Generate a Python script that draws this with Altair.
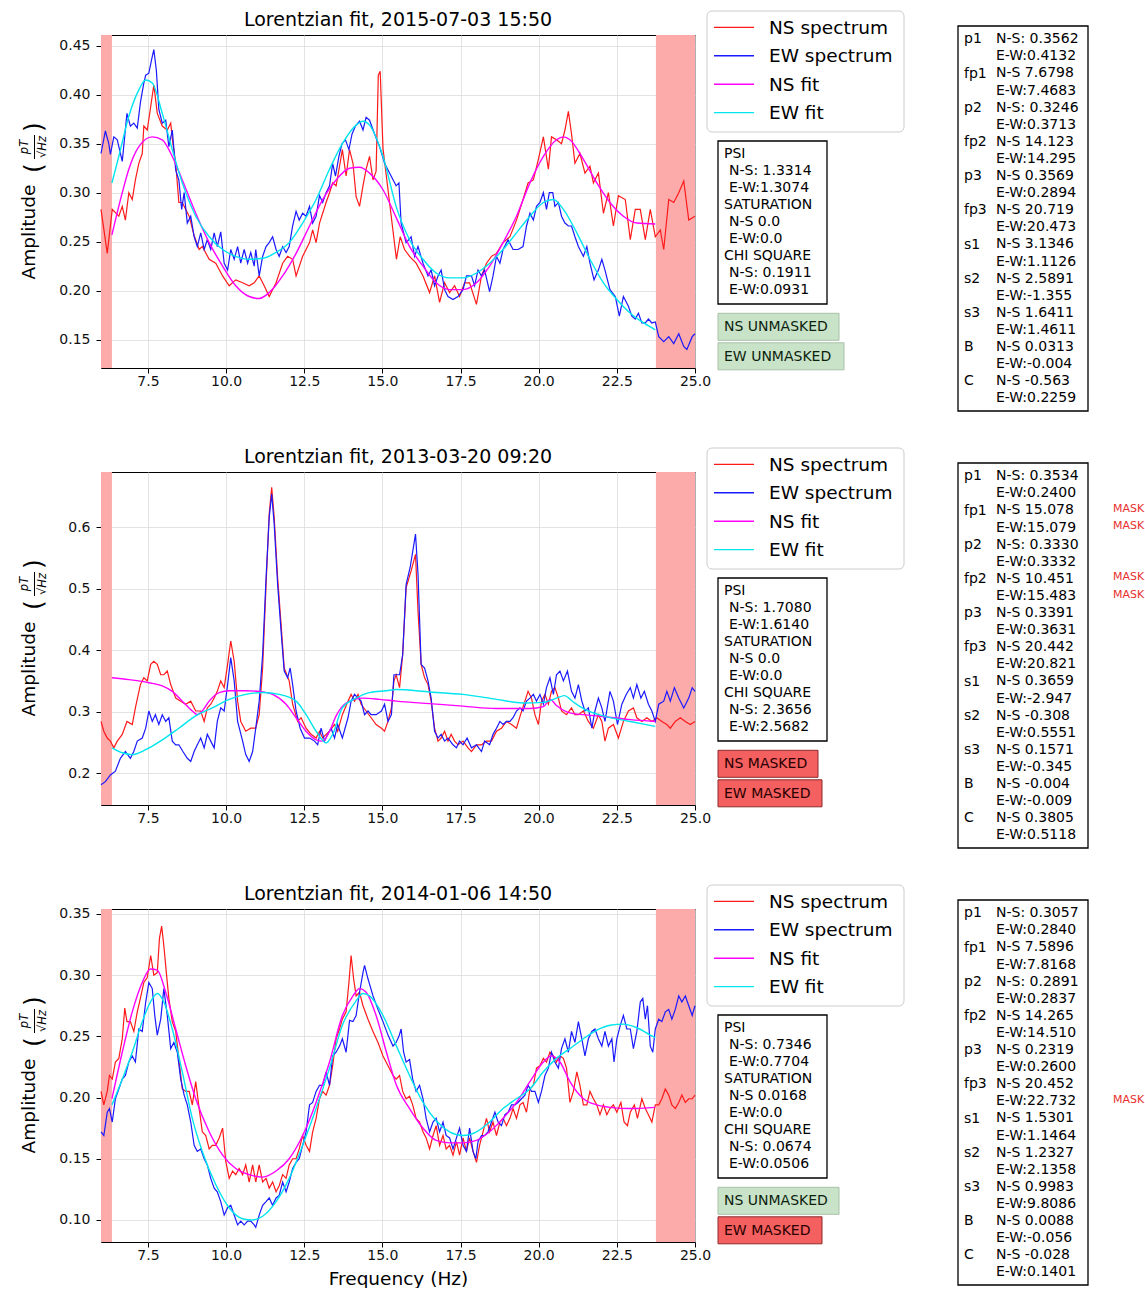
import altair as alt
import pandas as pd

FONT = "DejaVu Sans"
W, H = 594, 333          # plot area of each panel
GAP = 104                # vertical gap between panels

F_DOMAIN = [6.0, 25.0]
F_TICKS = [7.5, 10.0, 12.5, 15.0, 17.5, 20.0, 22.5, 25.0]
MASK_LO = [6.0, 23.75]
MASK_HI = [6.35, 25.0]

SERIES = ["NS spectrum", "EW spectrum", "NS fit", "EW fit"]
COLORS = ["#ff1a1a", "#1a1aff", "#ff00ff", "#00e5ee"]

PARAM_NAMES = ["p1", "fp1", "p2", "fp2", "p3", "fp3", "s1", "s2", "s3", "B", "C"]
COLON_PARAMS = ["p1", "p2"]

# ---------------------------------------------------------------- panel 1
TITLE_1 = "Lorentzian fit, 2015-07-03 15:50"
Y_DOMAIN_1 = [0.121, 0.461]
Y_TICKS_1 = [0.15, 0.20, 0.25, 0.30, 0.35, 0.40, 0.45]
Y_FORMAT_1 = ".2f"

NS_SPEC_1 = [(6.0,0.283),(6.2,0.238),(6.36,0.283),(6.57,0.276),(6.68,0.286),(6.78,0.272),(6.89,0.300),(7.0,0.293),(7.1,0.313),(7.21,0.330),(7.32,0.340),(7.37,0.368),(7.48,0.364),(7.59,0.388),(7.69,0.410),(7.80,0.381),(7.96,0.368),(8.12,0.364),(8.23,0.371),(8.30,0.350),(8.39,0.330),(8.49,0.290),(8.60,0.290),(8.82,0.276),(8.98,0.256),(9.14,0.242),(9.24,0.245),(9.46,0.232),(9.67,0.228),(9.89,0.215),(10.10,0.205),(10.31,0.211),(10.53,0.208),(10.74,0.205),(10.90,0.208),(11.06,0.215),(11.22,0.205),(11.38,0.194),(11.60,0.208),(11.81,0.228),(11.97,0.235),(12.13,0.232),(12.24,0.215),(12.45,0.235),(12.67,0.249),(12.77,0.262),(12.88,0.249),(12.99,0.269),(13.20,0.290),(13.31,0.300),(13.41,0.310),(13.52,0.307),(13.63,0.327),(13.72,0.344),(13.84,0.317),(13.95,0.344),(14.06,0.330),(14.16,0.296),(14.27,0.286),(14.38,0.307),(14.48,0.324),(14.59,0.337),(14.70,0.313),(14.80,0.322),(14.87,0.420),(14.93,0.424),(15.02,0.345),(15.23,0.290),(15.45,0.232),(15.57,0.255),(15.71,0.242),(15.87,0.235),(16.08,0.228),(16.30,0.215),(16.51,0.198),(16.67,0.215),(16.83,0.188),(16.99,0.208),(17.15,0.198),(17.31,0.205),(17.47,0.194),(17.63,0.208),(17.79,0.208),(18.01,0.186),(18.17,0.215),(18.33,0.228),(18.49,0.235),(18.65,0.238),(18.86,0.249),(19.08,0.255),(19.29,0.272),(19.50,0.293),(19.66,0.310),(19.83,0.313),(19.99,0.334),(20.15,0.357),(20.31,0.324),(20.41,0.357),(20.57,0.354),(20.73,0.350),(20.84,0.364),(20.95,0.383),(21.05,0.360),(21.16,0.330),(21.32,0.340),(21.48,0.320),(21.64,0.327),(21.75,0.310),(21.91,0.320),(22.07,0.279),(22.23,0.300),(22.39,0.266),(22.55,0.297),(22.77,0.293),(22.93,0.252),(23.09,0.283),(23.25,0.283),(23.41,0.252),(23.57,0.283),(23.73,0.255),(23.89,0.262),(24.00,0.242),(24.16,0.293),(24.32,0.290),(24.48,0.300),(24.64,0.312),(24.80,0.272),(25.0,0.276)]
EW_SPEC_1 = [(6.0,0.340),(6.14,0.363),(6.25,0.350),(6.30,0.339),(6.41,0.357),(6.52,0.354),(6.68,0.332),(6.83,0.381),(6.94,0.368),(7.05,0.371),(7.16,0.366),(7.26,0.392),(7.37,0.412),(7.43,0.420),(7.53,0.422),(7.62,0.436),(7.69,0.446),(7.77,0.425),(7.85,0.385),(7.96,0.371),(8.07,0.374),(8.17,0.347),(8.28,0.364),(8.39,0.323),(8.49,0.313),(8.58,0.283),(8.66,0.300),(8.76,0.269),(8.87,0.276),(8.98,0.255),(9.08,0.245),(9.19,0.259),(9.30,0.242),(9.40,0.252),(9.51,0.242),(9.62,0.259),(9.72,0.245),(9.83,0.260),(9.94,0.228),(10.05,0.221),(10.15,0.242),(10.26,0.232),(10.37,0.245),(10.47,0.228),(10.58,0.242),(10.69,0.228),(10.79,0.239),(10.90,0.225),(10.95,0.242),(11.06,0.215),(11.17,0.235),(11.28,0.245),(11.38,0.249),(11.49,0.255),(11.60,0.242),(11.70,0.235),(11.81,0.245),(11.92,0.239),(12.02,0.245),(12.13,0.266),(12.24,0.281),(12.34,0.272),(12.45,0.279),(12.56,0.276),(12.67,0.286),(12.77,0.269),(12.88,0.276),(12.99,0.297),(13.09,0.290),(13.20,0.300),(13.31,0.307),(13.41,0.330),(13.50,0.317),(13.61,0.337),(13.71,0.350),(13.82,0.354),(13.93,0.344),(14.03,0.360),(14.14,0.368),(14.27,0.373),(14.38,0.364),(14.48,0.377),(14.59,0.374),(14.75,0.360),(14.91,0.347),(15.07,0.330),(15.23,0.320),(15.44,0.307),(15.53,0.310),(15.60,0.269),(15.76,0.249),(15.92,0.255),(16.03,0.235),(16.14,0.245),(16.30,0.228),(16.46,0.215),(16.56,0.221),(16.67,0.205),(16.78,0.215),(16.88,0.221),(16.99,0.201),(17.10,0.194),(17.26,0.191),(17.42,0.194),(17.58,0.201),(17.69,0.215),(17.85,0.215),(17.95,0.205),(18.06,0.221),(18.17,0.215),(18.27,0.221),(18.43,0.199),(18.54,0.215),(18.65,0.235),(18.76,0.228),(18.86,0.242),(19.02,0.252),(19.18,0.242),(19.34,0.242),(19.50,0.245),(19.61,0.266),(19.72,0.279),(19.83,0.272),(19.93,0.286),(20.04,0.290),(20.15,0.300),(20.25,0.283),(20.34,0.300),(20.45,0.300),(20.52,0.286),(20.63,0.290),(20.73,0.276),(20.84,0.269),(20.95,0.266),(21.05,0.266),(21.16,0.255),(21.27,0.245),(21.43,0.235),(21.54,0.245),(21.64,0.228),(21.77,0.211),(21.91,0.221),(22.02,0.232),(22.12,0.221),(22.28,0.201),(22.45,0.194),(22.58,0.174),(22.71,0.194),(22.87,0.184),(22.98,0.174),(23.09,0.171),(23.19,0.177),(23.30,0.167),(23.41,0.167),(23.51,0.171),(23.62,0.167),(23.73,0.168),(23.84,0.153),(24.00,0.148),(24.16,0.153),(24.32,0.146),(24.48,0.156),(24.64,0.143),(24.74,0.140),(24.91,0.153),(25.0,0.156)]
NS_FIT_1 = [(6.35,0.257),(6.68,0.300),(6.89,0.324),(7.21,0.347),(7.64,0.357),(7.96,0.354),(8.28,0.337),(8.60,0.313),(9.03,0.279),(9.46,0.249),(9.89,0.225),(10.31,0.205),(10.74,0.194),(11.06,0.192),(11.38,0.198),(11.81,0.215),(12.24,0.238),(12.67,0.266),(13.09,0.293),(13.52,0.313),(13.95,0.325),(14.27,0.326),(14.59,0.320),(15.02,0.303),(15.45,0.274),(15.87,0.245),(16.30,0.225),(16.72,0.208),(17.15,0.201),(17.58,0.201),(18.01,0.208),(18.43,0.225),(18.86,0.249),(19.29,0.276),(19.72,0.310),(20.15,0.337),(20.57,0.354),(20.79,0.357),(21.00,0.354),(21.43,0.334),(21.86,0.310),(22.28,0.290),(22.71,0.276),(23.14,0.269),(23.73,0.268)]
EW_FIT_1 = [(6.35,0.310),(6.57,0.337),(6.89,0.378),(7.21,0.405),(7.43,0.415),(7.64,0.412),(7.96,0.381),(8.28,0.344),(8.60,0.310),(9.03,0.276),(9.46,0.255),(9.89,0.242),(10.31,0.235),(10.74,0.232),(11.17,0.233),(11.60,0.239),(12.02,0.249),(12.45,0.269),(12.88,0.293),(13.31,0.324),(13.72,0.350),(14.16,0.369),(14.38,0.373),(14.59,0.369),(15.02,0.337),(15.45,0.285),(15.87,0.252),(16.30,0.232),(16.72,0.218),(17.15,0.213),(17.58,0.213),(18.01,0.218),(18.43,0.228),(18.86,0.242),(19.29,0.259),(19.72,0.276),(20.15,0.290),(20.47,0.293),(20.79,0.283),(21.22,0.259),(21.64,0.232),(22.07,0.208),(22.50,0.191),(22.93,0.177),(23.36,0.167),(23.73,0.160)]

PSI_1 = ["1.3314", "1.3074"]
SATURATION_1 = ["0.0", "0.0"]
CHI_SQUARE_1 = ["0.1911", "0.0931"]
NS_PARAMS_1 = ["0.3562", "7.6798", "0.3246", "14.123", "0.3569", "20.719", "3.1346", "2.5891", "1.6411", "0.0313", "-0.563"]
EW_PARAMS_1 = ["0.4132", "7.4683", "0.3713", "14.295", "0.2894", "20.473", "1.1126", "-1.355", "1.4611", "-0.004", "0.2259"]
STATUS_1 = ["NS UNMASKED", "EW UNMASKED"]
FLAGGED_1 = []

# ---------------------------------------------------------------- panel 2
TITLE_2 = "Lorentzian fit, 2013-03-20 09:20"
Y_DOMAIN_2 = [0.148, 0.690]
Y_TICKS_2 = [0.2, 0.3, 0.4, 0.5, 0.6]
Y_FORMAT_2 = ".1f"

NS_SPEC_2 = [(6.0,0.284),(6.09,0.268),(6.20,0.257),(6.30,0.252),(6.41,0.241),(6.52,0.252),(6.68,0.263),(6.83,0.284),(7.0,0.279),(7.10,0.306),(7.26,0.344),(7.37,0.355),(7.48,0.350),(7.59,0.377),(7.69,0.382),(7.80,0.377),(7.91,0.360),(8.01,0.360),(8.12,0.366),(8.23,0.344),(8.39,0.322),(8.55,0.317),(8.71,0.312),(8.87,0.317),(9.03,0.301),(9.19,0.301),(9.30,0.284),(9.40,0.306),(9.51,0.312),(9.62,0.322),(9.72,0.333),(9.83,0.350),(9.94,0.339),(10.05,0.377),(10.15,0.415),(10.26,0.382),(10.37,0.317),(10.47,0.284),(10.63,0.268),(10.79,0.273),(10.95,0.273),(11.06,0.295),(11.17,0.371),(11.28,0.507),(11.38,0.622),(11.46,0.665),(11.54,0.616),(11.65,0.518),(11.76,0.442),(11.86,0.371),(12.02,0.350),(12.13,0.312),(12.29,0.284),(12.40,0.290),(12.56,0.273),(12.72,0.263),(12.88,0.257),(12.99,0.268),(13.09,0.257),(13.20,0.263),(13.31,0.268),(13.47,0.279),(13.57,0.268),(13.72,0.295),(13.90,0.317),(14.00,0.328),(14.11,0.317),(14.22,0.328),(14.32,0.312),(14.48,0.301),(14.64,0.290),(14.80,0.279),(14.97,0.273),(15.07,0.268),(15.18,0.284),(15.29,0.306),(15.37,0.350),(15.44,0.360),(15.55,0.339),(15.65,0.393),(15.76,0.502),(15.92,0.529),(16.06,0.556),(16.14,0.464),(16.24,0.377),(16.35,0.355),(16.46,0.344),(16.56,0.317),(16.67,0.273),(16.78,0.252),(16.88,0.257),(16.99,0.268),(17.10,0.252),(17.20,0.263),(17.31,0.252),(17.42,0.246),(17.58,0.252),(17.74,0.241),(17.85,0.235),(18.01,0.246),(18.17,0.246),(18.33,0.252),(18.49,0.252),(18.65,0.268),(18.81,0.273),(18.97,0.284),(19.13,0.279),(19.29,0.273),(19.42,0.295),(19.56,0.317),(19.66,0.333),(19.77,0.322),(19.88,0.295),(19.99,0.279),(20.09,0.317),(20.20,0.328),(20.31,0.312),(20.41,0.333),(20.52,0.339),(20.63,0.322),(20.73,0.301),(20.89,0.295),(21.05,0.306),(21.16,0.295),(21.27,0.295),(21.43,0.301),(21.59,0.284),(21.75,0.273),(21.91,0.295),(22.02,0.284),(22.12,0.252),(22.23,0.273),(22.39,0.279),(22.55,0.257),(22.71,0.284),(22.87,0.301),(23.03,0.306),(23.14,0.290),(23.30,0.284),(23.46,0.290),(23.62,0.284),(23.78,0.290),(23.94,0.284),(24.10,0.279),(24.21,0.273),(24.37,0.284),(24.53,0.290),(24.69,0.284),(24.85,0.279),(25.0,0.284)]
EW_SPEC_2 = [(6.0,0.181),(6.14,0.186),(6.30,0.197),(6.46,0.203),(6.62,0.224),(6.78,0.235),(6.94,0.224),(7.05,0.235),(7.16,0.252),(7.32,0.257),(7.43,0.273),(7.53,0.301),(7.64,0.284),(7.74,0.295),(7.85,0.279),(7.96,0.295),(8.07,0.284),(8.17,0.290),(8.28,0.252),(8.39,0.246),(8.49,0.246),(8.62,0.235),(8.76,0.224),(8.87,0.219),(8.98,0.235),(9.08,0.246),(9.19,0.257),(9.30,0.241),(9.40,0.263),(9.51,0.252),(9.62,0.241),(9.72,0.284),(9.83,0.306),(9.94,0.301),(10.05,0.344),(10.15,0.388),(10.26,0.350),(10.37,0.284),(10.53,0.252),(10.63,0.230),(10.74,0.219),(10.85,0.235),(10.95,0.273),(11.06,0.317),(11.17,0.393),(11.28,0.518),(11.38,0.616),(11.46,0.654),(11.54,0.605),(11.65,0.507),(11.76,0.431),(11.86,0.366),(11.97,0.355),(12.05,0.371),(12.13,0.344),(12.24,0.301),(12.37,0.273),(12.51,0.257),(12.67,0.257),(12.83,0.252),(12.93,0.246),(13.04,0.273),(13.15,0.252),(13.25,0.263),(13.36,0.273),(13.47,0.257),(13.57,0.279),(13.72,0.257),(13.90,0.290),(14.00,0.317),(14.11,0.328),(14.22,0.322),(14.32,0.317),(14.43,0.295),(14.54,0.301),(14.64,0.295),(14.80,0.295),(14.97,0.301),(15.07,0.312),(15.18,0.284),(15.29,0.295),(15.37,0.360),(15.44,0.360),(15.55,0.360),(15.65,0.393),(15.76,0.507),(15.89,0.535),(16.06,0.589),(16.14,0.524),(16.24,0.377),(16.35,0.371),(16.46,0.350),(16.56,0.322),(16.67,0.268),(16.78,0.257),(16.88,0.263),(16.99,0.252),(17.10,0.257),(17.26,0.246),(17.37,0.241),(17.47,0.252),(17.58,0.246),(17.71,0.257),(17.85,0.241),(18.01,0.246),(18.17,0.235),(18.27,0.252),(18.43,0.246),(18.54,0.263),(18.65,0.273),(18.76,0.284),(18.86,0.279),(18.97,0.284),(19.08,0.284),(19.18,0.290),(19.29,0.301),(19.40,0.306),(19.50,0.301),(19.61,0.317),(19.72,0.322),(19.83,0.328),(19.93,0.317),(20.04,0.328),(20.15,0.312),(20.25,0.339),(20.36,0.355),(20.47,0.328),(20.57,0.360),(20.68,0.366),(20.79,0.350),(20.92,0.366),(21.05,0.333),(21.16,0.322),(21.27,0.344),(21.38,0.317),(21.48,0.301),(21.59,0.306),(21.70,0.273),(21.80,0.301),(21.91,0.322),(22.02,0.306),(22.12,0.284),(22.28,0.333),(22.39,0.317),(22.52,0.279),(22.66,0.312),(22.80,0.328),(22.93,0.339),(23.03,0.322),(23.14,0.344),(23.27,0.322),(23.38,0.333),(23.51,0.312),(23.62,0.301),(23.73,0.284),(23.84,0.312),(24.00,0.317),(24.10,0.333),(24.21,0.317),(24.34,0.339),(24.48,0.322),(24.64,0.306),(24.80,0.322),(24.91,0.339),(25.0,0.333)]
NS_FIT_2 = [(6.35,0.355),(6.89,0.352),(7.53,0.347),(7.96,0.342),(8.28,0.333),(8.60,0.317),(8.92,0.301),(9.08,0.295),(9.24,0.301),(9.46,0.317),(9.78,0.331),(10.10,0.334),(10.63,0.334),(11.06,0.333),(11.49,0.328),(11.92,0.312),(12.24,0.290),(12.56,0.268),(12.88,0.254),(13.09,0.252),(13.31,0.268),(13.52,0.293),(13.84,0.314),(14.38,0.322),(14.91,0.320),(15.45,0.317),(16.51,0.313),(17.58,0.309),(18.65,0.305),(19.72,0.305),(20.15,0.308),(20.36,0.320),(20.57,0.310),(21.00,0.298),(21.86,0.293),(22.93,0.287),(23.73,0.284)]
EW_FIT_2 = [(6.35,0.241),(6.68,0.233),(7.0,0.230),(7.43,0.238),(7.96,0.254),(8.49,0.273),(9.03,0.293),(9.56,0.306),(10.10,0.320),(10.63,0.328),(11.17,0.331),(11.70,0.328),(12.24,0.317),(12.56,0.295),(12.88,0.268),(13.20,0.249),(13.41,0.263),(13.72,0.306),(14.16,0.322),(14.59,0.331),(15.13,0.334),(15.45,0.336),(16.51,0.332),(17.58,0.328),(18.65,0.320),(19.50,0.314),(20.15,0.315),(20.57,0.322),(20.82,0.326),(21.10,0.316),(21.43,0.305),(22.07,0.293),(22.93,0.284),(23.73,0.276)]

PSI_2 = ["1.7080", "1.6140"]
SATURATION_2 = ["0.0", "0.0"]
CHI_SQUARE_2 = ["2.3656", "2.5682"]
NS_PARAMS_2 = ["0.3534", "15.078", "0.3330", "10.451", "0.3391", "20.442", "0.3659", "-0.308", "0.1571", "-0.004", "0.3805"]
EW_PARAMS_2 = ["0.2400", "15.079", "0.3332", "15.483", "0.3631", "20.821", "-2.947", "0.5551", "-0.345", "-0.009", "0.5118"]
STATUS_2 = ["NS MASKED", "EW MASKED"]
FLAGGED_2 = [("fp1", "NS"), ("fp1", "EW"), ("fp2", "NS"), ("fp2", "EW")]

# ---------------------------------------------------------------- panel 3
TITLE_3 = "Lorentzian fit, 2014-01-06 14:50"
Y_DOMAIN_3 = [0.082, 0.354]
Y_TICKS_3 = [0.10, 0.15, 0.20, 0.25, 0.30, 0.35]
Y_FORMAT_3 = ".2f"

NS_SPEC_3 = [(6.0,0.205),(6.09,0.194),(6.20,0.205),(6.27,0.218),(6.36,0.215),(6.46,0.229),(6.57,0.232),(6.68,0.248),(6.76,0.273),(6.83,0.262),(6.94,0.262),(7.05,0.254),(7.16,0.270),(7.26,0.281),(7.37,0.294),(7.48,0.298),(7.59,0.316),(7.69,0.300),(7.80,0.302),(7.87,0.330),(7.94,0.340),(8.01,0.324),(8.09,0.302),(8.17,0.281),(8.28,0.262),(8.39,0.254),(8.49,0.232),(8.60,0.207),(8.71,0.205),(8.82,0.205),(8.92,0.194),(9.03,0.213),(9.14,0.191),(9.24,0.172),(9.35,0.169),(9.46,0.158),(9.56,0.161),(9.67,0.161),(9.78,0.167),(9.89,0.175),(9.99,0.148),(10.10,0.134),(10.21,0.140),(10.31,0.137),(10.42,0.142),(10.53,0.137),(10.63,0.145),(10.74,0.131),(10.85,0.145),(10.95,0.131),(11.06,0.145),(11.17,0.131),(11.28,0.134),(11.38,0.126),(11.49,0.131),(11.60,0.123),(11.70,0.128),(11.81,0.137),(11.92,0.134),(12.02,0.145),(12.13,0.150),(12.24,0.150),(12.34,0.158),(12.45,0.169),(12.56,0.161),(12.67,0.156),(12.77,0.172),(12.88,0.183),(12.99,0.199),(13.09,0.205),(13.20,0.202),(13.31,0.210),(13.41,0.226),(13.52,0.248),(13.63,0.256),(13.72,0.264),(13.84,0.270),(13.93,0.294),(14.00,0.316),(14.08,0.297),(14.16,0.283),(14.27,0.286),(14.38,0.275),(14.54,0.264),(14.70,0.254),(14.86,0.245),(15.02,0.234),(15.18,0.226),(15.34,0.218),(15.44,0.215),(15.55,0.218),(15.65,0.205),(15.76,0.199),(15.87,0.201),(15.97,0.194),(16.08,0.183),(16.19,0.180),(16.30,0.172),(16.40,0.167),(16.51,0.158),(16.62,0.169),(16.72,0.177),(16.83,0.161),(16.94,0.169),(17.04,0.158),(17.15,0.161),(17.26,0.153),(17.37,0.164),(17.47,0.153),(17.58,0.167),(17.69,0.156),(17.79,0.167),(17.90,0.156),(18.01,0.147),(18.11,0.161),(18.22,0.172),(18.33,0.183),(18.43,0.172),(18.54,0.180),(18.65,0.169),(18.76,0.180),(18.86,0.183),(18.97,0.177),(19.08,0.183),(19.18,0.191),(19.29,0.183),(19.40,0.194),(19.50,0.196),(19.61,0.188),(19.72,0.207),(19.83,0.210),(19.93,0.224),(20.04,0.226),(20.15,0.232),(20.25,0.229),(20.36,0.237),(20.47,0.234),(20.57,0.229),(20.68,0.234),(20.79,0.232),(20.89,0.224),(21.00,0.196),(21.11,0.205),(21.22,0.221),(21.32,0.210),(21.43,0.194),(21.54,0.194),(21.64,0.205),(21.75,0.199),(21.86,0.194),(21.96,0.186),(22.07,0.194),(22.18,0.186),(22.28,0.191),(22.39,0.194),(22.50,0.188),(22.63,0.196),(22.73,0.180),(22.84,0.177),(22.93,0.188),(23.06,0.194),(23.16,0.183),(23.30,0.199),(23.41,0.191),(23.51,0.186),(23.62,0.180),(23.73,0.194),(23.84,0.194),(23.94,0.199),(24.05,0.207),(24.16,0.202),(24.26,0.194),(24.37,0.191),(24.48,0.196),(24.58,0.202),(24.69,0.196),(24.80,0.199),(24.91,0.199),(25.0,0.202)]
EW_SPEC_3 = [(6.0,0.172),(6.09,0.169),(6.20,0.188),(6.27,0.191),(6.36,0.180),(6.46,0.199),(6.57,0.207),(6.68,0.215),(6.78,0.218),(6.89,0.229),(7.0,0.234),(7.10,0.229),(7.21,0.256),(7.32,0.254),(7.43,0.278),(7.53,0.294),(7.64,0.289),(7.72,0.267),(7.80,0.251),(7.91,0.264),(8.01,0.289),(8.12,0.267),(8.23,0.240),(8.33,0.245),(8.44,0.237),(8.55,0.215),(8.66,0.202),(8.76,0.194),(8.87,0.180),(8.98,0.161),(9.08,0.156),(9.19,0.158),(9.30,0.150),(9.40,0.145),(9.51,0.134),(9.62,0.126),(9.72,0.123),(9.83,0.115),(9.94,0.104),(10.05,0.110),(10.15,0.112),(10.26,0.104),(10.37,0.096),(10.47,0.099),(10.58,0.096),(10.69,0.099),(10.79,0.099),(10.90,0.096),(10.95,0.094),(11.06,0.104),(11.17,0.112),(11.28,0.115),(11.38,0.118),(11.49,0.112),(11.60,0.118),(11.70,0.120),(11.81,0.131),(11.92,0.123),(12.02,0.131),(12.13,0.142),(12.24,0.147),(12.34,0.150),(12.45,0.161),(12.56,0.172),(12.67,0.194),(12.77,0.196),(12.88,0.205),(12.99,0.210),(13.09,0.210),(13.20,0.221),(13.31,0.210),(13.41,0.234),(13.52,0.237),(13.63,0.242),(13.72,0.248),(13.84,0.237),(13.95,0.263),(14.06,0.262),(14.16,0.267),(14.27,0.286),(14.38,0.302),(14.43,0.308),(14.54,0.297),(14.70,0.283),(14.86,0.272),(15.02,0.262),(15.18,0.251),(15.34,0.242),(15.44,0.245),(15.53,0.250),(15.60,0.256),(15.68,0.237),(15.76,0.229),(15.87,0.231),(15.97,0.215),(16.08,0.205),(16.19,0.210),(16.30,0.199),(16.40,0.183),(16.51,0.172),(16.62,0.180),(16.72,0.183),(16.83,0.172),(16.94,0.180),(17.04,0.169),(17.15,0.167),(17.26,0.158),(17.37,0.167),(17.47,0.175),(17.58,0.161),(17.69,0.156),(17.79,0.175),(17.90,0.156),(17.99,0.150),(18.06,0.164),(18.17,0.169),(18.27,0.169),(18.38,0.172),(18.49,0.180),(18.60,0.188),(18.70,0.180),(18.81,0.177),(18.92,0.186),(19.02,0.188),(19.13,0.194),(19.24,0.194),(19.34,0.196),(19.45,0.199),(19.56,0.202),(19.66,0.210),(19.77,0.205),(19.88,0.205),(19.99,0.196),(20.09,0.205),(20.20,0.218),(20.31,0.224),(20.41,0.237),(20.52,0.229),(20.63,0.224),(20.73,0.240),(20.84,0.248),(20.95,0.237),(21.05,0.254),(21.16,0.245),(21.27,0.262),(21.38,0.248),(21.48,0.234),(21.59,0.248),(21.70,0.254),(21.80,0.256),(21.91,0.248),(22.02,0.242),(22.12,0.254),(22.23,0.242),(22.34,0.248),(22.41,0.229),(22.50,0.248),(22.61,0.259),(22.71,0.267),(22.82,0.256),(22.93,0.256),(23.03,0.240),(23.14,0.254),(23.25,0.278),(23.33,0.281),(23.41,0.264),(23.48,0.275),(23.57,0.242),(23.65,0.237),(23.73,0.256),(23.84,0.264),(23.94,0.262),(24.05,0.270),(24.16,0.272),(24.26,0.264),(24.37,0.272),(24.48,0.283),(24.58,0.278),(24.69,0.283),(24.80,0.275),(24.91,0.267),(25.0,0.275)]
NS_FIT_3 = [(6.35,0.199),(6.68,0.237),(7.0,0.270),(7.32,0.294),(7.58,0.305),(7.80,0.304),(8.07,0.286),(8.39,0.256),(8.71,0.226),(9.03,0.199),(9.46,0.172),(9.89,0.153),(10.31,0.142),(10.74,0.137),(11.17,0.135),(11.60,0.140),(12.02,0.150),(12.45,0.169),(12.88,0.196),(13.31,0.229),(13.72,0.267),(14.06,0.283),(14.27,0.289),(14.48,0.286),(14.80,0.267),(15.13,0.237),(15.45,0.210),(15.87,0.191),(16.30,0.175),(16.72,0.165),(17.15,0.163),(17.58,0.163),(18.01,0.165),(18.43,0.172),(18.86,0.183),(19.29,0.196),(19.72,0.213),(20.15,0.229),(20.41,0.234),(20.68,0.229),(21.00,0.213),(21.43,0.199),(21.86,0.194),(22.28,0.192),(22.93,0.191),(23.73,0.192)]
EW_FIT_3 = [(6.35,0.194),(6.68,0.215),(7.0,0.237),(7.32,0.262),(7.58,0.278),(7.80,0.285),(8.01,0.278),(8.28,0.256),(8.60,0.221),(8.92,0.183),(9.24,0.156),(9.67,0.129),(10.10,0.110),(10.53,0.101),(10.85,0.100),(11.17,0.103),(11.60,0.115),(12.02,0.134),(12.45,0.161),(12.88,0.191),(13.31,0.224),(13.72,0.259),(14.16,0.279),(14.38,0.285),(14.59,0.283),(15.02,0.267),(15.45,0.242),(15.87,0.218),(16.30,0.196),(16.72,0.181),(17.15,0.172),(17.58,0.169),(18.01,0.172),(18.43,0.180),(18.86,0.191),(19.29,0.199),(19.72,0.207),(20.15,0.221),(20.57,0.232),(21.00,0.240),(21.43,0.248),(21.86,0.255),(22.28,0.259),(22.71,0.260),(23.14,0.257),(23.57,0.251),(23.73,0.249)]

PSI_3 = ["0.7346", "0.7704"]
SATURATION_3 = ["0.0168", "0.0"]
CHI_SQUARE_3 = ["0.0674", "0.0506"]
NS_PARAMS_3 = ["0.3057", "7.5896", "0.2891", "14.265", "0.2319", "20.452", "1.5301", "1.2327", "0.9983", "0.0088", "-0.028"]
EW_PARAMS_3 = ["0.2840", "7.8168", "0.2837", "14.510", "0.2600", "22.732", "1.1464", "2.1358", "9.8086", "-0.056", "0.1401"]
STATUS_3 = ["NS UNMASKED", "EW MASKED"]
FLAGGED_3 = [("fp3", "EW")]

# ---------------------------------------------------------------- helpers
ONE = pd.DataFrame({"k": [0]})

BADGE_STYLE = {
    "UNMASKED": ("#c9e3c9", "#a8c0a8", "#0d1f0d"),
    "MASKED": ("#f45f5f", "#8c2b2b", "#2a0000"),
}
BADGE_RIGHT = {"NS UNMASKED": 738, "EW UNMASKED": 743, "NS MASKED": 717, "EW MASKED": 721}

PARAM_TOP = 8.3      # baseline of the first line in the parameter box
PARAM_STEP = 17.1
QUALITY_TOP = 123.3  # baseline of the first line in the quality box
QUALITY_STEP = 17.0


def text(s, x, y, size=14, align="left", baseline="alphabetic", color="black", **kw):
    return alt.Chart(ONE).mark_text(
        align=align, baseline=baseline, font=FONT, fontSize=size, color=color, **kw
    ).encode(x=alt.value(x), y=alt.value(y), text=alt.value(s))


def box(x0, x1, y0, y1, fill, stroke, width=1.0, radius=0):
    return alt.Chart(ONE).mark_rect(
        fill=fill, stroke=stroke, strokeWidth=width, cornerRadius=radius
    ).encode(x=alt.value(x0), x2=alt.value(x1), y=alt.value(y0), y2=alt.value(y1))


def panel(title, y_domain, y_ticks, y_format, curves, psi, sat, chi,
          ns_params, ew_params, status, flagged, x_title=None, anchor=False):
    xs = alt.Scale(domain=F_DOMAIN, nice=False, zero=False)
    ys = alt.Scale(domain=y_domain, nice=False, zero=False)
    xa = alt.Axis(values=F_TICKS, format=".1f", labelFlush=False, grid=True,
                  gridColor="#dcdcdc", gridWidth=0.8, domain=False, tickColor="black",
                  tickSize=5, labelPadding=1, labelFontSize=14, labelColor="#111111",
                  titleFontSize=18.5, titleFontWeight="normal", titleColor="black",
                  titlePadding=7)
    ya = alt.Axis(values=y_ticks, format=y_format, labelFlush=False, grid=True,
                  gridColor="#dcdcdc", gridWidth=0.8, domain=False, tickColor="black",
                  tickSize=5, labelPadding=6, labelFontSize=14, labelColor="#111111")
    col = alt.Scale(domain=SERIES, range=COLORS)

    layers = []
    bands = pd.DataFrame({"lo": MASK_LO, "hi": MASK_HI})
    layers.append(
        alt.Chart(bands).mark_rect(color="#fcaaaa").encode(
            x=alt.X("lo:Q", scale=xs, axis=xa, title=x_title),
            x2="hi:Q", y=alt.value(0), y2=alt.value(H))
    )
    for name, pts in zip(SERIES, curves):
        df = pd.DataFrame(pts, columns=["freq", "amp"])
        df["series"] = name
        fit = name.endswith("fit")
        layers.append(
            alt.Chart(df).mark_line(
                strokeWidth=1.4 if fit else 1.2,
                interpolate="monotone" if fit else "linear",
            ).encode(
                x=alt.X("freq:Q", scale=xs, axis=xa, title=x_title),
                y=alt.Y("amp:Q", scale=ys, axis=ya, title=None),
                color=alt.Color("series:N", scale=col, legend=None),
            )
        )

    # panel title
    layers.append(text(title, W / 2, -9, size=19, align="center"))

    # y-axis label: Amplitude (pT / sqrt(Hz))
    layers.append(text("Amplitude", -66, 197, size=18.5, align="center", angle=270))
    layers.append(text("(", -67, 133, size=25, align="center", baseline="middle", angle=270))
    layers.append(text(")", -67, 92, size=25, align="center", baseline="middle", angle=270))
    layers.append(text("pT", -76, 112, size=11.5, align="center", baseline="middle",
                       angle=270, fontStyle="italic"))
    layers.append(text("\u221aHz", -58, 112, size=11.5, align="center", baseline="middle",
                       angle=270, fontStyle="italic"))
    layers.append(alt.Chart(ONE).mark_rule(color="black", strokeWidth=1).encode(
        x=alt.value(-66.5), y=alt.value(100), y2=alt.value(124)))

    # legend
    layers.append(box(606, 803, -24, 97, "white", "#cccccc", 1, 5))
    for i, (name, c) in enumerate(zip(SERIES, COLORS)):
        base = -1.3 + 28.4 * i
        layers.append(alt.Chart(ONE).mark_rule(color=c, strokeWidth=1.4).encode(
            x=alt.value(613), x2=alt.value(653), y=alt.value(base - 6.3)))
        layers.append(text(name, 668, base, size=18.5))

    # quality box: headers flush left, values indented by one space
    layers.append(box(617, 726, 106, 269, "white", "black", 1.3))
    q_lines = [("PSI", 0), ("N-S: " + psi[0], 1), ("E-W:" + psi[1], 1),
               ("SATURATION", 0), ("N-S " + sat[0], 1), ("E-W:" + sat[1], 1),
               ("CHI SQUARE", 0), ("N-S: " + chi[0], 1), ("E-W:" + chi[1], 1)]
    for i, (s, indent) in enumerate(q_lines):
        layers.append(text(s, 623 + 5 * indent, QUALITY_TOP + QUALITY_STEP * i))

    # mask status badges
    for i, s in enumerate(status):
        fill, stroke, tcol = BADGE_STYLE[s.split(" ")[1]]
        top = 278.3 + 29.5 * i
        layers.append(box(617, BADGE_RIGHT[s], top, top + 27, fill, stroke, 1))
        layers.append(text(s, 623, top + 18, size=14, color=tcol))

    # fit parameter box
    layers.append(box(857, 987, -9, 376, "white", "black", 1.3))
    value_lines = []
    for i, (name, ns, ew) in enumerate(zip(PARAM_NAMES, ns_params, ew_params)):
        layers.append(text(name, 863, PARAM_TOP + PARAM_STEP * 2 * i))
        value_lines += ["N-S: " + ns if name in COLON_PARAMS else "N-S " + ns, "E-W:" + ew]
    layers.append(text("\n".join(value_lines), 895, PARAM_TOP, lineBreak="\n",
                       lineHeight=PARAM_STEP))
    for name, chan in flagged:
        row = 2 * PARAM_NAMES.index(name) + (0 if chan == "NS" else 1)
        layers.append(text("MASK", 1012, PARAM_TOP + PARAM_STEP * row - 2.5,
                           size=11, color="#e8302f"))

    if anchor:
        layers.append(alt.Chart(ONE).mark_rule(strokeOpacity=0).encode(
            x=alt.value(-100), y=alt.value(-34), y2=alt.value(-33)))

    return alt.layer(*layers).properties(width=W, height=H)


p1 = panel(TITLE_1, Y_DOMAIN_1, Y_TICKS_1, Y_FORMAT_1,
           [NS_SPEC_1, EW_SPEC_1, NS_FIT_1, EW_FIT_1], PSI_1, SATURATION_1, CHI_SQUARE_1,
           NS_PARAMS_1, EW_PARAMS_1, STATUS_1, FLAGGED_1, anchor=True)
p2 = panel(TITLE_2, Y_DOMAIN_2, Y_TICKS_2, Y_FORMAT_2,
           [NS_SPEC_2, EW_SPEC_2, NS_FIT_2, EW_FIT_2], PSI_2, SATURATION_2, CHI_SQUARE_2,
           NS_PARAMS_2, EW_PARAMS_2, STATUS_2, FLAGGED_2)
p3 = panel(TITLE_3, Y_DOMAIN_3, Y_TICKS_3, Y_FORMAT_3,
           [NS_SPEC_3, EW_SPEC_3, NS_FIT_3, EW_FIT_3], PSI_3, SATURATION_3, CHI_SQUARE_3,
           NS_PARAMS_3, EW_PARAMS_3, STATUS_3, FLAGGED_3, x_title="Frequency (Hz)")

chart = (
    alt.vconcat(p1, p2, p3, spacing=GAP, bounds="flush", padding=0, background="white")
    .resolve_scale(x="independent", y="independent")
    .configure(font=FONT)
    .configure_view(stroke="black", strokeWidth=1)
)

chart.save("out.html", embed_options={"renderer": "svg", "actions": False})
